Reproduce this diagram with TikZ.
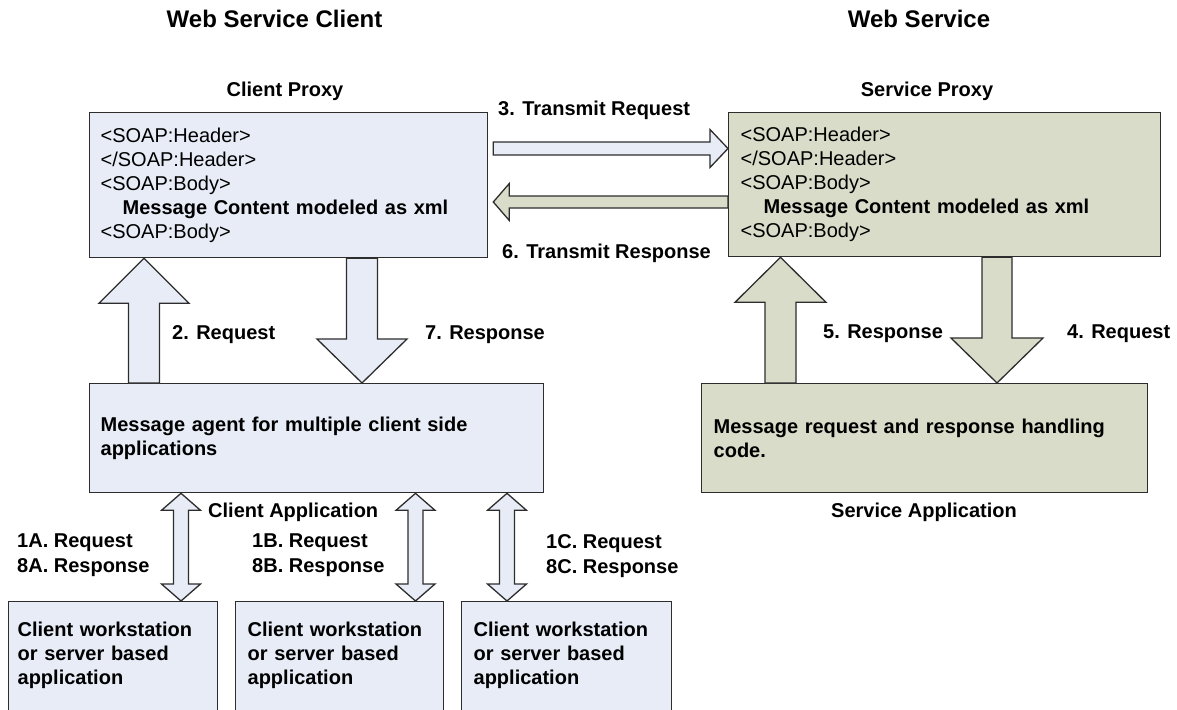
\documentclass[tikz,border=0pt]{standalone}
\usepackage{fontspec}
\setmainfont{Liberation Sans}
\usetikzlibrary{positioning,calc}
\definecolor{cFill}{RGB}{231,236,247}
\definecolor{sFill}{RGB}{217,220,200}
\definecolor{bLine}{RGB}{45,45,45}

% block arrow: style, tail, tip, half shaft, half head, head length
\newcommand{\fatarrow}[6]{%
  \coordinate (hb) at ($(#3)!#6!(#2)$);
  \draw[#1] ($(#2)!#4!90:(#3)$) -- ($(hb)!#4!90:(#3)$) -- ($(hb)!#5!90:(#3)$)
    -- (#3) -- ($(hb)!#5!-90:(#3)$) -- ($(hb)!#4!-90:(#3)$)
    -- ($(#2)!#4!-90:(#3)$) -- cycle;
}
% block arrow with a head at both ends
\newcommand{\twinarrow}[6]{%
  \coordinate (ha) at ($(#2)!#6!(#3)$);
  \coordinate (hz) at ($(#3)!#6!(#2)$);
  \draw[#1] (#2) -- ($(ha)!#5!90:(#3)$) -- ($(ha)!#4!90:(#3)$)
    -- ($(hz)!#4!-90:(#2)$) -- ($(hz)!#5!-90:(#2)$) -- (#3)
    -- ($(hz)!#5!90:(#2)$) -- ($(hz)!#4!90:(#2)$)
    -- ($(ha)!#4!-90:(#3)$) -- ($(ha)!#5!-90:(#3)$) -- cycle;
}

\begin{document}
\begin{tikzpicture}[x=1pt,y=-1pt]
\useasboundingbox (0,0) rectangle (1177,709);

% ---------------------------------------------------------------- styles
\tikzset{
  box/.style   = {draw=bLine, line width=1.3pt, anchor=north west, align=left,
                  inner xsep=11pt, inner ysep=0pt,
                  font=\fontsize{20}{24}\selectfont},
  cbox/.style  = {box, fill=cFill},
  sbox/.style  = {box, fill=sFill},
  bld/.style   = {font=\fontsize{20}{24}\selectfont\bfseries},
  wsbox/.style = {cbox, bld, text height=14pt, text depth=70pt, inner ysep=21pt},
  lbl/.style   = {inner sep=0pt, anchor=base west, bld},
  lbl2/.style  = {inner sep=0pt, anchor=north west, align=left,
                  font=\fontsize{20}{25}\selectfont\bfseries},
  ttl/.style   = {inner sep=0pt, anchor=base,
                  font=\fontsize{24}{28}\selectfont\bfseries},
  carr/.style  = {draw=bLine, line width=1.3pt, fill=cFill, line join=miter},
  sarr/.style  = {draw=bLine, line width=1.3pt, fill=sFill, line join=miter},
}

% ================================================================ titles
\node[ttl] (tcl) at (274.5,28) {Web Service Client};
\node[ttl] (tsv) at (919,28)   {Web Service};

% ================================================================ proxies
\node[cbox, text width=376pt, minimum width=398pt, minimum height=145pt]
  (cproxy) at (89,112)
  {<SOAP:Header>\\</SOAP:Header>\\<SOAP:Body>\\
   \hspace*{22pt}\textbf{Message Content modeled as xml}\\<SOAP:Body>};
\node[sbox, inner xsep=12pt, text width=408pt, minimum width=432pt,
      minimum height=144pt] (sproxy) at (728,112)
  {<SOAP:Header>\\</SOAP:Header>\\<SOAP:Body>\\
   \hspace*{23pt}\textbf{Message Content modeled as xml}\\<SOAP:Body>};
\node[lbl, anchor=base] (lcp) at (285,96)  {Client Proxy};
\node[lbl, anchor=base] (lsp) at (927,96)  {Service Proxy};

% =========================================================== applications
\node[cbox, bld, text width=432pt, minimum width=454pt, minimum height=109pt]
  (agent) at (89,383)
  {Message agent for multiple client side\\applications};
\node[sbox, bld, inner xsep=12pt, text width=422pt, minimum width=446pt,
      minimum height=109pt] (sapp) at (701,383)
  {Message request and response handling\\code.};
\node[lbl] (lca) at (208,517) {Client Application};
\node[lbl, anchor=base] (lsa) at (924,517) {Service Application};

% ========================================================== workstations
\node[wsbox, inner xsep=9pt, text width=191pt] (wsA) at (8,601)
  {Client workstation\\or server based\\application};
\node[wsbox, inner xsep=12pt, text width=184pt] (wsB) at (235,601)
  {Client workstation\\or server based\\application};
\node[wsbox, inner xsep=12pt, text width=186pt] (wsC) at (461,601)
  {Client workstation\\or server based\\application};

% ------------------------------------------------- transmit, left and right
\coordinate (r3s) at ([xshift=5pt,yshift=-36.5pt]cproxy.north east);
\coordinate (r3e) at (r3s -| sproxy.west);
\fatarrow{carr}{r3s}{r3e}{6.5pt}{19pt}{18pt}
\coordinate (r6s) at ([yshift=-90pt]sproxy.north west);
\coordinate (r6x) at (cproxy.east |- r6s);
\coordinate (r6e) at ([xshift=5pt]r6x);
\fatarrow{sarr}{r6s}{r6e}{6pt}{18.5pt}{16pt}
\node[lbl] (l3) at (498,115) {3. Transmit Request};
\node[lbl] (l6) at (502,258) {6. Transmit Response};

% ------------------------------------------------- client side, up and down
\coordinate (q2s) at ([xshift=55pt]agent.north west);
\coordinate (q2e) at (q2s |- cproxy.south);
\fatarrow{carr}{q2s}{q2e}{15.5pt}{45pt}{45pt}
\coordinate (q7s) at ([xshift=273pt]cproxy.south west);
\coordinate (q7e) at (q7s |- agent.north);
\fatarrow{carr}{q7s}{q7e}{15.5pt}{45pt}{44pt}
\node[lbl] (l2) at (172,339) {2. Request};
\node[lbl] (l7) at (425,339) {7. Response};

% ------------------------------------------------ service side, up and down
\coordinate (q5s) at ([xshift=79.5pt]sapp.north west);
\coordinate (q5e) at (q5s |- sproxy.south);
\fatarrow{sarr}{q5s}{q5e}{15.5pt}{45.5pt}{45pt}
\coordinate (q4s) at ([xshift=269pt]sproxy.south west);
\coordinate (q4e) at (q4s |- sapp.north);
\fatarrow{sarr}{q4s}{q4e}{15pt}{46pt}{45pt}
\node[lbl] (l5) at (823,338)  {5. Response};
\node[lbl] (l4) at (1067,338) {4. Request};

% ------------------------------------------- agent to the workstations
\coordinate (dAs) at ([xshift=92pt]agent.south west);
\coordinate (dAe) at (dAs |- wsA.north);
\twinarrow{carr}{dAs}{dAe}{7.5pt}{19.5pt}{17pt}
\coordinate (dBs) at ([xshift=326.5pt]agent.south west);
\coordinate (dBe) at (dBs |- wsB.north);
\twinarrow{carr}{dBs}{dBe}{7.5pt}{19.5pt}{17pt}
\coordinate (dCs) at ([xshift=418pt]agent.south west);
\coordinate (dCe) at (dCs |- wsC.north);
\twinarrow{carr}{dCs}{dCe}{7.5pt}{19.5pt}{17pt}
\node[lbl2] (lA) at (17,534)  {1A. Request\\8A. Response};
\node[lbl2] (lB) at (252,534) {1B. Request\\8B. Response};
\node[lbl2] (lC) at (546,534) {1C. Request\\8C. Response};

\end{tikzpicture}
\end{document}
